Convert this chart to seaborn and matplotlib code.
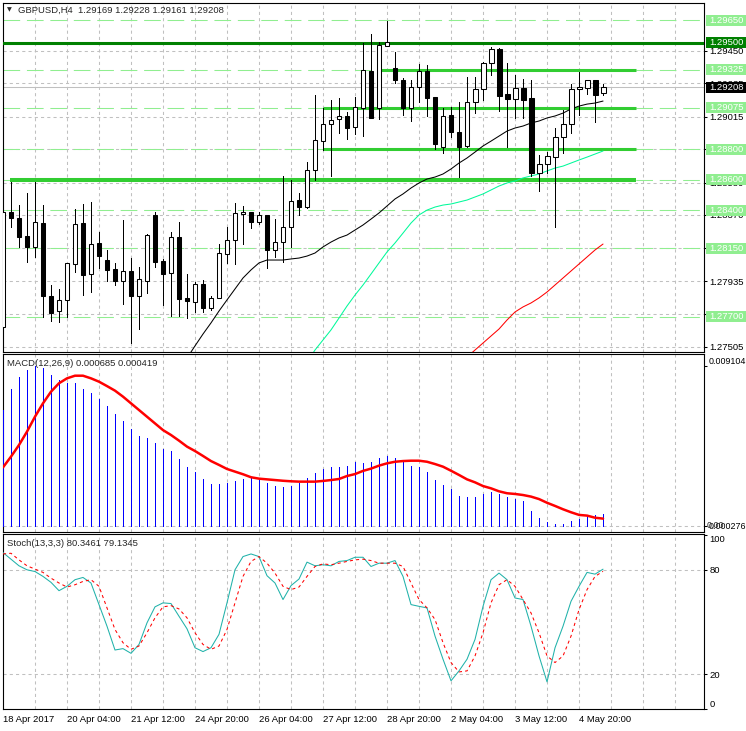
import numpy as np
import pandas as pd
import matplotlib
matplotlib.use("Agg")
import matplotlib.pyplot as plt
import matplotlib.transforms as mtransforms
from matplotlib.patches import Rectangle
import seaborn as sns

# GBPUSD H4 candles (bar 0 = 18 Apr 2017)
opens = [1.27634, 1.28389, 1.28350, 1.28232, 1.28160, 1.28317, 1.27838, 1.27739, 1.27812, 1.28048,
         1.28317, 1.27982, 1.28186, 1.28074, 1.28015, 1.27936, 1.28002, 1.27838, 1.27936, 1.28370,
         1.28068, 1.27989, 1.28225, 1.27825, 1.27798, 1.27917, 1.27759, 1.27825, 1.28114, 1.28205,
         1.28376, 1.28389, 1.28324, 1.28370, 1.28140, 1.28192, 1.28291, 1.28468, 1.28422, 1.28665,
         1.28855, 1.28967, 1.29000, 1.29020, 1.28947, 1.29072, 1.29315, 1.29072, 1.29479, 1.29335,
         1.29256, 1.29072, 1.29210, 1.29315, 1.29144, 1.28816, 1.29026, 1.28915, 1.28823, 1.29112,
         1.29197, 1.29368, 1.29460, 1.29164, 1.29131, 1.29204, 1.29138, 1.28645, 1.28705, 1.28750,
         1.28882, 1.28967, 1.29197, 1.29204, 1.29256, 1.29169]
highs = [1.29046, 1.28586, 1.28435, 1.28514, 1.28586, 1.28435, 1.27910, 1.27884, 1.28055, 1.28409,
         1.28442, 1.28455, 1.28258, 1.28140, 1.28055, 1.28337, 1.28087, 1.28028, 1.28245, 1.28389,
         1.28081, 1.28258, 1.28324, 1.27982, 1.27930, 1.27943, 1.27838, 1.28179, 1.28291, 1.28448,
         1.28429, 1.28392, 1.28389, 1.28372, 1.28343, 1.28626, 1.28599, 1.28514, 1.28718, 1.29158,
         1.29072, 1.29125, 1.29138, 1.29046, 1.29144, 1.29499, 1.29558, 1.29506, 1.29643, 1.29440,
         1.29269, 1.29256, 1.29361, 1.29355, 1.29144, 1.29072, 1.29079, 1.29112, 1.29276, 1.29276,
         1.29374, 1.29473, 1.29466, 1.29368, 1.29289, 1.29263, 1.29256, 1.28764, 1.28783, 1.28941,
         1.29059, 1.29230, 1.29309, 1.29256, 1.29256, 1.29228]
lows = [1.27621, 1.28291, 1.28160, 1.28061, 1.28094, 1.27700, 1.27674, 1.27667, 1.27700, 1.27996,
        1.27844, 1.27864, 1.28022, 1.27936, 1.27910, 1.27785, 1.27529, 1.27621, 1.27858, 1.28028,
        1.27779, 1.27706, 1.27706, 1.27693, 1.27733, 1.27733, 1.27746, 1.27825, 1.28055, 1.28048,
        1.28179, 1.28284, 1.28311, 1.28022, 1.28094, 1.28061, 1.28160, 1.28370, 1.28416, 1.28599,
        1.28796, 1.28626, 1.28908, 1.28869, 1.28901, 1.28888, 1.29007, 1.29000, 1.29479, 1.29236,
        1.29026, 1.28987, 1.29112, 1.29020, 1.28803, 1.28777, 1.28882, 1.28619, 1.28816, 1.29039,
        1.29125, 1.29289, 1.29052, 1.28816, 1.29007, 1.29007, 1.28626, 1.28527, 1.28645, 1.28291,
        1.28777, 1.28908, 1.29026, 1.29164, 1.28980, 1.29161]
closes = [1.28389, 1.28350, 1.28225, 1.28160, 1.28324, 1.27838, 1.27726, 1.27812, 1.28055, 1.28311,
          1.27976, 1.28179, 1.28100, 1.28009, 1.27936, 1.28002, 1.27838, 1.27949, 1.28238, 1.28061,
          1.27982, 1.28225, 1.27818, 1.27805, 1.27917, 1.27759, 1.27825, 1.28120, 1.28205, 1.28383,
          1.28389, 1.28324, 1.28370, 1.28140, 1.28192, 1.28291, 1.28462, 1.28422, 1.28665, 1.28862,
          1.28967, 1.28993, 1.29020, 1.28941, 1.29079, 1.29322, 1.29007, 1.29486, 1.29506, 1.29256,
          1.29072, 1.29210, 1.29315, 1.29138, 1.28836, 1.29020, 1.28915, 1.28816, 1.29112, 1.29197,
          1.29368, 1.29460, 1.29151, 1.29131, 1.29204, 1.29125, 1.28645, 1.28705, 1.28757, 1.28882,
          1.28967, 1.29197, 1.29210, 1.29256, 1.29158, 1.29208]

# moving averages (only the visible part)
ma_black_start = 23
ma_black = [1.27430, 1.27510, 1.27588, 1.27661, 1.27739, 1.27812, 1.27884, 1.27956, 1.28009, 1.28055,
            1.28074, 1.28074, 1.28074, 1.28081, 1.28087, 1.28100, 1.28120, 1.28160, 1.28192, 1.28219,
            1.28238, 1.28271, 1.28304, 1.28343, 1.28383, 1.28429, 1.28475, 1.28508, 1.28547, 1.28580,
            1.28606, 1.28619, 1.28639, 1.28672, 1.28711, 1.28744, 1.28783, 1.28823, 1.28855, 1.28888,
            1.28921, 1.28941, 1.28954, 1.28974, 1.28987, 1.29007, 1.29020, 1.29039, 1.29066, 1.29085,
            1.29098, 1.29105, 1.29118]
ma_green_start = 38
ma_green = [1.27404, 1.27483, 1.27549, 1.27615, 1.27693, 1.27772, 1.27844, 1.27910, 1.27982, 1.28055,
            1.28127, 1.28186, 1.28251, 1.28317, 1.28370, 1.28402, 1.28422, 1.28435, 1.28442, 1.28455,
            1.28468, 1.28488, 1.28508, 1.28534, 1.28560, 1.28580, 1.28593, 1.28613, 1.28626, 1.28639,
            1.28659, 1.28678, 1.28691, 1.28711, 1.28731, 1.28750, 1.28770, 1.28790]
ma_red_start = 58
ma_red = [1.27437, 1.27483, 1.27529, 1.27575, 1.27621, 1.27680, 1.27733, 1.27766, 1.27792, 1.27825,
          1.27864, 1.27910, 1.27956, 1.28002, 1.28048, 1.28094, 1.28140, 1.28179]

# horizontal levels
faint_levels = [1.29650, 1.29325, 1.29075, 1.28800, 1.28600, 1.28400, 1.28150, 1.27700]
main_level = 1.29500
seg_levels = [1.29325, 1.29075, 1.28800, 1.28600]
seg_from = [46.75, 40.0, 40.0, 0.9]
seg_to = [79.1, 79.1, 79.1, 79.1]
last_price = 1.29208
price_grid = [1.29450, 1.29235, 1.29015, 1.28800, 1.28580, 1.28370, 1.28150, 1.27935, 1.27720, 1.27505]

# MACD(12,26,9)
macd_main = [0.00659, 0.00778, 0.00848, 0.00886, 0.009104, 0.00896, 0.00858, 0.00830, 0.00814, 0.00814,
             0.00778, 0.00757, 0.00722, 0.00682, 0.00636, 0.00598, 0.00553, 0.00511, 0.00498, 0.00473,
             0.00438, 0.00426, 0.00383, 0.00337, 0.00307, 0.00269, 0.00239, 0.00239, 0.00246, 0.00256,
             0.00269, 0.00275, 0.00269, 0.00246, 0.00229, 0.00223, 0.00229, 0.00246, 0.00275, 0.00303,
             0.00322, 0.00337, 0.00337, 0.00343, 0.00364, 0.00360, 0.00364, 0.00388, 0.00398, 0.00388,
             0.00365, 0.00343, 0.00337, 0.00309, 0.00261, 0.00233, 0.00208, 0.00172, 0.00167, 0.00167,
             0.00180, 0.00195, 0.00182, 0.00167, 0.00155, 0.00144, 0.00085, 0.00047, 0.00023, 0.00013,
             0.00013, 0.00030, 0.00041, 0.00057, 0.00064, 0.000685]
macd_signal = [0.00333, 0.00394, 0.00460, 0.00536, 0.00621, 0.00697, 0.00763, 0.00811, 0.00839, 0.00854,
               0.00854, 0.00839, 0.00820, 0.00795, 0.00769, 0.00735, 0.00697, 0.00659, 0.00621, 0.00583,
               0.00545, 0.00517, 0.00485, 0.00451, 0.00426, 0.00398, 0.00369, 0.00347, 0.00324, 0.00309,
               0.00294, 0.00277, 0.00269, 0.00265, 0.00261, 0.00257, 0.00254, 0.00252, 0.00252, 0.00252,
               0.00256, 0.00261, 0.00267, 0.00284, 0.00295, 0.00313, 0.00326, 0.00343, 0.00356, 0.00365,
               0.00369, 0.00371, 0.00371, 0.00365, 0.00352, 0.00337, 0.00314, 0.00290, 0.00265, 0.00248,
               0.00227, 0.00214, 0.00197, 0.00186, 0.00182, 0.00176, 0.00167, 0.00153, 0.00132, 0.00114,
               0.00095, 0.00078, 0.00063, 0.00059, 0.00047, 0.000419]

# Stoch(13,3,3)
stoch_main = [89.9, 86.1, 82.3, 80.0, 79.0, 76.2, 72.8, 68.0, 70.5, 74.3,
              75.6, 72.4, 60.0, 47.6, 33.9, 34.7, 32.0, 37.1, 49.5, 58.7,
              61.0, 60.6, 53.3, 46.1, 35.2, 33.0, 35.2, 42.9, 61.0, 80.0,
              87.6, 89.1, 87.6, 76.6, 72.4, 62.9, 70.9, 74.7, 84.4, 82.3,
              82.9, 82.3, 84.8, 85.3, 87.2, 87.2, 81.9, 83.8, 83.8, 85.3,
              76.2, 60.0, 59.0, 58.1, 41.9, 28.6, 16.2, 21.9, 28.6, 40.0,
              59.0, 74.3, 78.1, 74.3, 63.8, 62.9, 47.6, 30.5, 15.6, 35.2,
              47.6, 61.9, 70.5, 78.5, 77.5, 80.35]
stoch_signal = [89.1, 89.5, 85.7, 82.3, 80.4, 78.5, 75.2, 72.4, 70.1, 71.4,
                73.3, 74.3, 70.5, 58.1, 45.7, 38.1, 34.3, 36.2, 43.8, 52.4,
                58.7, 59.4, 57.5, 52.4, 43.8, 37.1, 34.3, 36.2, 45.7, 61.0,
                76.2, 84.8, 87.6, 83.8, 78.1, 70.5, 68.6, 70.1, 76.2, 81.9,
                83.4, 82.9, 83.8, 84.8, 85.7, 86.1, 85.3, 83.8, 83.8, 83.8,
                81.9, 72.4, 62.9, 58.1, 51.4, 38.1, 26.7, 21.3, 21.9, 30.5,
                43.8, 61.0, 71.4, 74.3, 70.5, 62.9, 55.2, 43.8, 30.5, 26.7,
                30.5, 41.9, 57.1, 68.6, 76.2, 79.13]

date_ticks = [0, 8, 16, 24, 32, 40, 48, 56, 64, 72]
date_labels = ["18 Apr 2017", "20 Apr 04:00", "21 Apr 12:00", "24 Apr 20:00", "26 Apr 04:00",
               "27 Apr 12:00", "28 Apr 20:00", "2 May 04:00", "3 May 12:00", "4 May 20:00"]

sns.set_style("white")
plt.rcParams['font.family'] = ['Liberation Sans', 'DejaVu Sans']
fs = 6.8
GRID = '#C0C0C0'
GRID_LS = (0, (3, 3))

W, H = 746, 731
fig = plt.figure(figsize=(W / 100, H / 100), dpi=100)
fig.patch.set_facecolor('white')


def panel(x0, y0, x1, y1):
    return fig.add_axes([x0 / W, 1 - y1 / H, (x1 - x0) / W, (y1 - y0) / H])


ax1 = panel(2.5, 3, 704, 352)
ax2 = panel(2.5, 354, 704, 531.5)
ax3 = panel(2.5, 534, 704, 709)

n = len(opens)
idx = np.arange(n)
xlim = (-0.06, 87.62)

for ax in (ax1, ax2, ax3):
    ax.set_xlim(*xlim)
    ax.set_facecolor('white')
    for s in ax.spines.values():
        s.set_color('black')
        s.set_linewidth(0.8)
    for k in range(4, 88, 4):
        ax.axvline(k, color=GRID, lw=0.75, ls=GRID_LS, zorder=1)
    ax.yaxis.tick_right()
    ax.tick_params(axis='y', direction='out', length=2.2, width=0.75, pad=1.5,
                   labelsize=fs, colors='black')
    ax.tick_params(axis='x', length=0, labelbottom=False)

# ---------------- price panel ----------------
ax1.set_ylim(1.27470, 1.29762)
for lv in price_grid:
    ax1.axhline(lv, color=GRID, lw=0.75, ls=GRID_LS, zorder=1)
for lv in faint_levels:
    ax1.axhline(lv, color='#90EE90', lw=0.75, ls=(0, (16, 6.5)), zorder=2)
ax1.axhline(last_price, color=GRID, lw=0.75, zorder=2)
ax1.axhline(main_level, color='#008000', lw=2.2, zorder=3)
ax1.hlines(seg_levels, seg_from, seg_to, colors='#32CD32', lw=[2.2, 2.2, 2.2, 2.9], zorder=3)

sns.lineplot(x=np.arange(ma_black_start, n), y=ma_black, ax=ax1, color='black', lw=0.75, zorder=4)
sns.lineplot(x=np.arange(ma_green_start, n), y=ma_green, ax=ax1, color='#00FA9A', lw=0.75, zorder=4)
sns.lineplot(x=np.arange(ma_red_start, n), y=ma_red, ax=ax1, color='red', lw=0.75, zorder=4)

o, h, l, c = (np.array(v) for v in (opens, highs, lows, closes))
up = c >= o
ax1.vlines(idx, l, h, color='black', lw=0.7, zorder=5, antialiased=False)
ax1.bar(idx, np.abs(c - o), bottom=np.minimum(o, c), width=0.62,
        color=np.where(up, 'white', 'black'), edgecolor='black', lw=0.75, zorder=6)

ax1.set_yticks(price_grid)
ax1.set_yticklabels([f"{v:.5f}" for v in price_grid])
ax1.set_xlabel('')
ax1.set_ylabel('')

# boxed labels on the price scale
y0, y1 = ax1.get_ylim()
per_px = (y1 - y0) / 349.0
tr = mtransforms.blended_transform_factory(fig.transFigure, ax1.transData)
boxes = [(lv, '#90EE90') for lv in faint_levels] + [(main_level, '#008000'), (last_price, 'black')]
for lv, col in boxes:
    ax1.add_patch(Rectangle((705.5 / W, lv - 5.5 * per_px), 41 / W, 11 * per_px, transform=tr,
                            facecolor=col, edgecolor='none', clip_on=False, zorder=10))
    ax1.text(709.5 / W, lv, f"{lv:.5f}", transform=tr, color='white', fontsize=fs,
             va='center', ha='left', zorder=11, clip_on=False)

# ---------------- MACD panel ----------------
ax2.set_ylim(-0.000313, 0.009773)
ax2.axhline(0, color=GRID, lw=0.75, ls=GRID_LS, zorder=1)
ax2.vlines(idx, 0, macd_main, color='#0000FF', lw=0.7, zorder=3, antialiased=False)
sns.lineplot(x=idx, y=macd_signal, ax=ax2, color='red', lw=1.8, zorder=4)
ax2.set_yticks([0, 0.009104])
ax2.set_yticklabels(['0.000276', '0.009104'])
ax2.tick_params(axis='y', labelsize=6.4, pad=1.2)
ax2.get_yticklabels()[1].set_va('bottom')
ax2.set_xlabel('')
ax2.set_ylabel('')
ax2.text(1.0, 0, '0.00', transform=mtransforms.blended_transform_factory(ax2.transAxes, ax2.transData)
         + mtransforms.ScaledTranslation(2.5 / 100, 0, fig.dpi_scale_trans),
         fontsize=6.4, va='center', ha='left', clip_on=False)

# ---------------- Stochastic panel ----------------
ax3.set_ylim(0.57, 100.57)
for lv in (20, 80):
    ax3.axhline(lv, color=GRID, lw=0.75, ls=GRID_LS, zorder=1)
sns.lineplot(x=idx, y=stoch_main, ax=ax3, color='#20B2AA', lw=0.75, zorder=4)
sns.lineplot(x=idx, y=stoch_signal, ax=ax3, color='red', lw=0.75, linestyle=(0, (3, 3)), zorder=4)
ax3.set_yticks([0, 20, 80, 100])
ax3.set_yticklabels(['0', '20', '80', '100'])
ax3.get_yticklabels()[0].set_va('bottom')
ax3.get_yticklabels()[3].set_va('top')
ax3.set_xticks(date_ticks)
ax3.set_xticklabels(date_labels, ha='left')
ax3.tick_params(axis='x', length=2, width=0.75, pad=2, labelbottom=True, labelsize=fs, colors='black')
ax3.set_xlabel('')
ax3.set_ylabel('')
ax3.set_xlim(*xlim)

# panel captions
fig.text(7 / W, 1 - 10 / H, "\u25bc", fontsize=4.5, va='center', ha='left',
         family=['DejaVu Sans'])
fig.text(18 / W, 1 - 10 / H, "GBPUSD,H4  1.29169 1.29228 1.29161 1.29208",
         fontsize=fs, va='center', ha='left')
fig.text(7 / W, 1 - 363 / H, "MACD(12,26,9) 0.000685 0.000419", fontsize=fs, va='center', ha='left')
fig.text(7 / W, 1 - 544 / H, "Stoch(13,3,3) 80.3461 79.1345", fontsize=fs, va='center', ha='left')

fig.savefig("out.png", dpi=100, facecolor='white')
